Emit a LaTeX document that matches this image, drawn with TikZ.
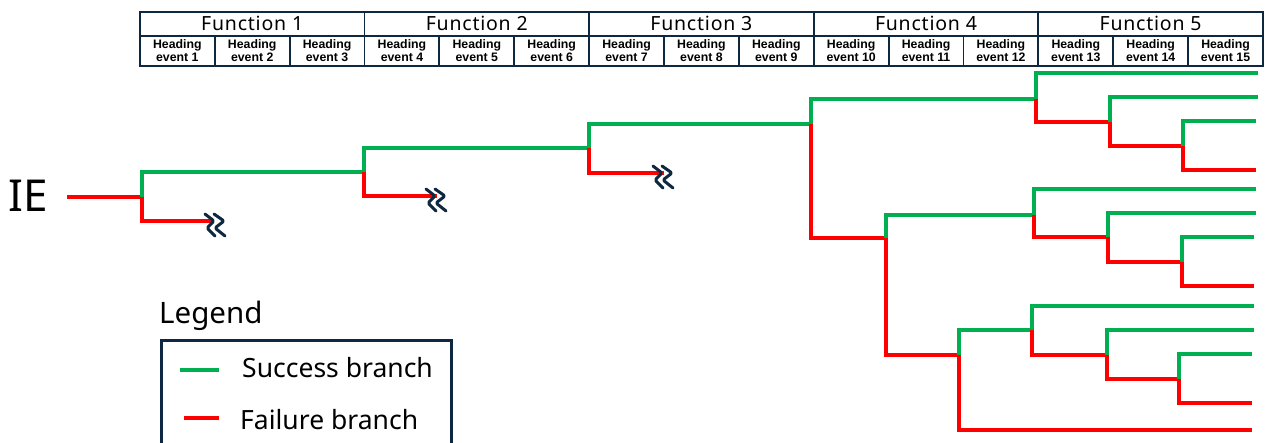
\documentclass[tikz,border=0pt]{standalone}
\usepackage{fontspec}
\setmainfont{Noto Sans}
\newfontfamily\hfont{Liberation Sans}
\newfontfamily\funcfont[LetterSpace=4]{Noto Sans}
\definecolor{navy}{HTML}{0E2841}
\definecolor{sgreen}{HTML}{00B050}
\definecolor{fred}{HTML}{FF0000}
\tikzset{
  succ/.style={draw=sgreen, line width=4pt},
  fail/.style={draw=fred, line width=4pt},
  funcbox/.style={draw=navy, line width=1.8pt, minimum width=224.6pt, minimum height=24pt, inner sep=0pt, font=\funcfont\fontsize{19.5}{20}\selectfont},
  headbox/.style={draw=navy, line width=1.8pt, minimum width=74.87pt, minimum height=30pt, inner sep=0pt, align=center, font=\hfont\bfseries\fontsize{12.3}{13.2}\selectfont},
  brk/.pic={\draw[navy, line width=3pt, line cap=round, line join=round, rounded corners=1.5pt]
      (-11,-11)--(-2,-4)--(-9,3)--(-1,11) (-2,-11)--(8,-4)--(-1,3)--(9,11);}
}
\begin{document}
\begin{tikzpicture}[x=1pt,y=-1pt]
\useasboundingbox (0,0) rectangle (1266,442);
% header
\foreach \i in {1,...,5} {
  \node[funcbox, anchor=north west] (f\i) at ({139+(\i-1)*224.6},11) {Function \i};
}
\foreach \i in {1,...,15} {
  \node[headbox, anchor=north west] (h\i) at ({139+(\i-1)*74.87},35) {Heading\\event \i};
}
% IE
\node[anchor=west, font=\fontsize{44}{46}\selectfont, inner sep=0pt] (ie) at (8,196) {IE};
% branch points
\coordinate (s0) at (67,197);
\coordinate (b1) at (142,197);
\coordinate (b2) at (364,172);
\coordinate (b3) at (589,148);
\coordinate (b4) at (811,124);
\coordinate (k1) at (214,221);
\coordinate (k2) at (437,196);
\coordinate (k3) at (664,173);
\coordinate (b5) at (1036,99);
\coordinate (b6) at (1110,122);
\coordinate (b7) at (1183,146);
\coordinate (b8) at (886,238);
\coordinate (b9) at (1034,215);
\coordinate (b10) at (1108,237);
\coordinate (b11) at (1182,262);
\coordinate (b12) at (959,355);
\coordinate (b13) at (1032,330);
\coordinate (b14) at (1107,355);
\coordinate (b15) at (1179,379);
\coordinate (e1) at (1258,73);
\coordinate (e2) at (1258,97);
\coordinate (e3) at (1256,121);
\coordinate (e4) at (1256,170);
\coordinate (e5) at (1256,189);
\coordinate (e6) at (1256,213);
\coordinate (e7) at (1254,237);
\coordinate (e8) at (1254,286);
\coordinate (e9) at (1254,306);
\coordinate (e10) at (1254,330);
\coordinate (e11) at (1252,354);
\coordinate (e12) at (1252,403);
\coordinate (e13) at (1252,430);
% tree
\draw[fail] (s0) -- (b1);
\draw[succ] (b1) |- (b2);
\draw[fail] (b1) |- (k1);
\draw[succ] (b2) |- (b3);
\draw[fail] (b2) |- (k2);
\draw[succ] (b3) |- (b4);
\draw[fail] (b3) |- (k3);
\draw[succ] (b4) |- (b5);
\draw[fail] (b4) |- (b8);
\draw[succ] (b5) |- (e1);
\draw[fail] (b5) |- (b6);
\draw[succ] (b6) |- (e2);
\draw[fail] (b6) |- (b7);
\draw[succ] (b7) |- (e3);
\draw[fail] (b7) |- (e4);
\draw[succ] (b8) |- (b9);
\draw[fail] (b8) |- (b12);
\draw[succ] (b9) |- (e5);
\draw[fail] (b9) |- (b10);
\draw[succ] (b10) |- (e6);
\draw[fail] (b10) |- (b11);
\draw[succ] (b11) |- (e7);
\draw[fail] (b11) |- (e8);
\draw[succ] (b12) |- (b13);
\draw[fail] (b12) |- (e13);
\draw[succ] (b13) |- (e9);
\draw[fail] (b13) |- (b14);
\draw[succ] (b14) |- (e10);
\draw[fail] (b14) |- (b15);
\draw[succ] (b15) |- (e11);
\draw[fail] (b15) |- (e12);
% breaks
\pic at ([shift={(2,4)}]k1) {brk};
\pic at ([shift={(0,4)}]k2) {brk};
\pic at ([shift={(0,4)}]k3) {brk};
% legend
\node[anchor=west, font=\fontsize{29.5}{31}\selectfont, inner sep=0pt] (leg) at (159,316) {Legend};
\draw[navy, line width=3pt] (161,445) -- (161,340) -- (451,340) -- (451,445);
\coordinate (ls1) at (180,370);
\coordinate (ls2) at (219,370);
\coordinate (lf1) at (184,418);
\coordinate (lf2) at (219,418);
\draw[succ] (ls1) -- (ls2);
\draw[fail] (lf1) -- (lf2);
\node[anchor=west, font=\fontsize{26.5}{28}\selectfont, inner sep=0pt] (lsucc) at (242,368) {Success branch};
\node[anchor=west, font=\fontsize{26.5}{28}\selectfont, inner sep=0pt] (lfail) at (240,420) {Failure branch};
\end{tikzpicture}
\end{document}
